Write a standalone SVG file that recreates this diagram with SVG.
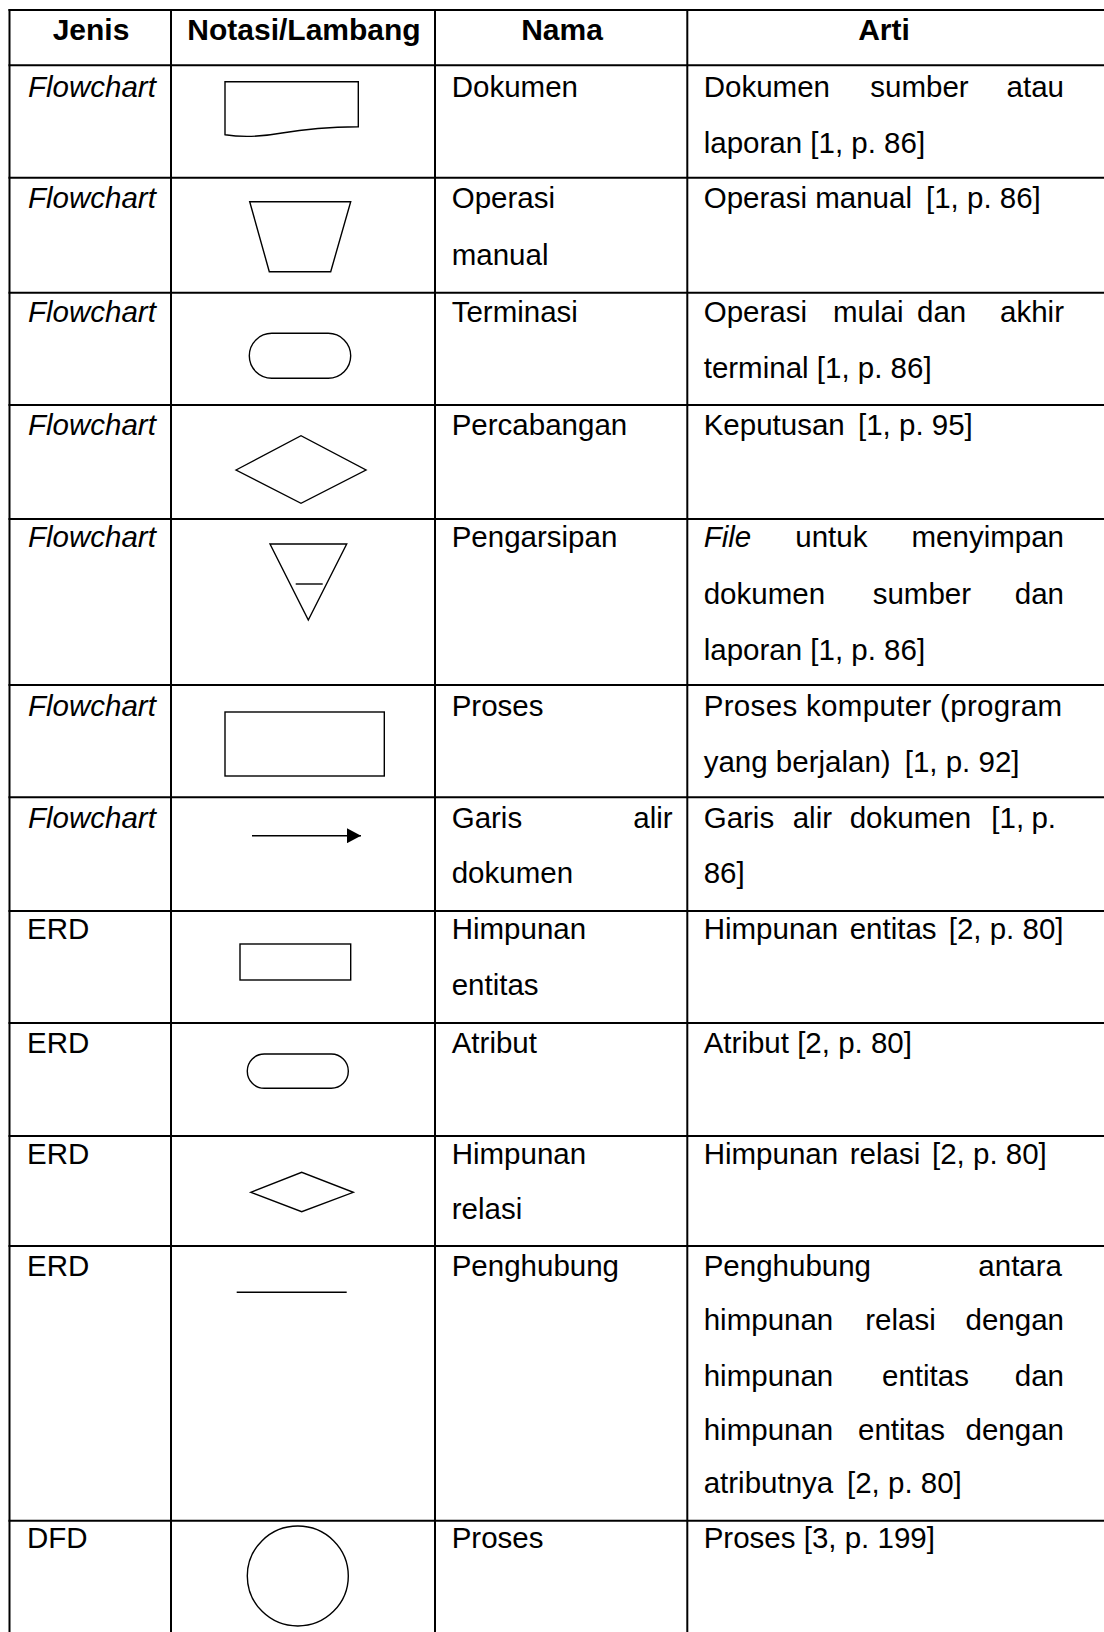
<svg xmlns="http://www.w3.org/2000/svg" width="1104" height="1632" viewBox="0 0 1104 1632">
<style>
.t{font-family:"Liberation Sans",Arial,Helvetica,sans-serif;font-size:29.5px;fill:#000}
.h{font-weight:bold;font-size:30px;text-anchor:middle}
.i{font-style:italic}
.e{text-anchor:end}
.grid line{stroke:#000;stroke-width:2}
.sym{fill:none;stroke:#000;stroke-width:1.4}
</style>
<defs>
<marker id="ah" markerWidth="14" markerHeight="15" refX="14" refY="7.5" orient="auto" markerUnits="userSpaceOnUse">
<path d="M0,0 L14,7.5 L0,15 Z" fill="#000"/>
</marker>
</defs>
<rect width="1104" height="1632" fill="#fff"/>
<g id="grid" class="grid">
<line x1="9.5" y1="9" x2="9.5" y2="1632"/>
<line x1="171" y1="9" x2="171" y2="1632"/>
<line x1="435" y1="9" x2="435" y2="1632"/>
<line x1="687.3" y1="9" x2="687.3" y2="1632"/>
<line x1="8.5" y1="10" x2="1104" y2="10"/>
<line x1="8.5" y1="65.3" x2="1104" y2="65.3"/>
<line x1="8.5" y1="177.7" x2="1104" y2="177.7"/>
<line x1="8.5" y1="292.7" x2="1104" y2="292.7"/>
<line x1="8.5" y1="405" x2="1104" y2="405"/>
<line x1="8.5" y1="519" x2="1104" y2="519"/>
<line x1="8.5" y1="685" x2="1104" y2="685"/>
<line x1="8.5" y1="797.3" x2="1104" y2="797.3"/>
<line x1="8.5" y1="911" x2="1104" y2="911"/>
<line x1="8.5" y1="1023" x2="1104" y2="1023"/>
<line x1="8.5" y1="1136" x2="1104" y2="1136"/>
<line x1="8.5" y1="1246" x2="1104" y2="1246"/>
<line x1="8.5" y1="1520.7" x2="1104" y2="1520.7"/>
</g>
<g id="header">
<text class="t h" x="91" y="40">Jenis</text>
<text class="t h" x="304" y="40">Notasi/Lambang</text>
<text class="t h" x="562" y="40">Nama</text>
<text class="t h" x="884" y="40">Arti</text>
</g>
<g id="row-dokumen">
<text class="t i" x="28" y="97">Flowchart</text>
<path class="sym" d="M225,81.7 H358.3 V126.7 C330,127 305,129 282,133 C260,137 242,137.5 225,134.7 Z"/>
<text class="t" x="451.7" y="97">Dokumen</text>
<text class="t" x="703.7" y="97">Dokumen</text>
<text class="t" x="870.3" y="97">sumber</text>
<text class="t e" x="1064" y="97">atau</text>
<text class="t" x="703.7" y="153">laporan [1, p. 86]</text>
</g>
<g id="row-operasi-manual">
<text class="t i" x="28" y="208">Flowchart</text>
<path class="sym" d="M249.7,201.7 L350.7,201.7 L330.7,271.7 L269.3,271.7 Z"/>
<text class="t" x="451.7" y="208">Operasi</text>
<text class="t" x="451.7" y="265">manual</text>
<text class="t" x="703.7" y="208">Operasi manual</text>
<text class="t" x="926" y="208">[1, p. 86]</text>
</g>
<g id="row-terminasi">
<text class="t i" x="28" y="322">Flowchart</text>
<rect class="sym" x="249.3" y="333.3" width="101.4" height="45" rx="22.5" ry="22.5"/>
<text class="t" x="451.7" y="322">Terminasi</text>
<text class="t" x="703.7" y="322">Operasi</text>
<text class="t" x="833" y="322">mulai</text>
<text class="t" x="917" y="322">dan</text>
<text class="t e" x="1064" y="322">akhir</text>
<text class="t" x="703.7" y="378">terminal [1, p. 86]</text>
</g>
<g id="row-percabangan">
<text class="t i" x="28" y="435">Flowchart</text>
<path class="sym" d="M236,470 L301,435.7 L366,470 L301,503.3 Z"/>
<text class="t" x="451.7" y="435">Percabangan</text>
<text class="t" x="703.7" y="435">Keputusan</text>
<text class="t" x="858" y="435">[1, p. 95]</text>
</g>
<g id="row-pengarsipan">
<text class="t i" x="28" y="547">Flowchart</text>
<path class="sym" d="M270,544 L346.7,544 L308.3,620 Z"/>
<line class="sym" x1="295.7" y1="584" x2="322.7" y2="584"/>
<text class="t" x="451.7" y="547">Pengarsipan</text>
<text class="t i" x="703.7" y="547">File</text>
<text class="t" x="795.3" y="547">untuk</text>
<text class="t e" x="1064" y="547">menyimpan</text>
<text class="t" x="703.7" y="604">dokumen</text>
<text class="t" x="872.7" y="604">sumber</text>
<text class="t e" x="1064" y="604">dan</text>
<text class="t" x="703.7" y="660">laporan [1, p. 86]</text>
</g>
<g id="row-proses-flowchart">
<text class="t i" x="28" y="716">Flowchart</text>
<rect class="sym" x="225" y="712" width="159.3" height="64"/>
<text class="t" x="451.7" y="716">Proses</text>
<text class="t" x="703.7" y="716" textLength="358.3" lengthAdjust="spacing">Proses komputer (program</text>
<text class="t" x="703.7" y="772">yang berjalan)</text>
<text class="t" x="904.7" y="772">[1, p. 92]</text>
</g>
<g id="row-garis-alir">
<text class="t i" x="28" y="828">Flowchart</text>
<line class="sym" x1="252" y1="835.7" x2="361" y2="835.7" stroke-width="1.6" marker-end="url(#ah)"/>
<text class="t" x="451.7" y="828">Garis</text>
<text class="t e" x="672.7" y="828">alir</text>
<text class="t" x="451.7" y="883">dokumen</text>
<text class="t" x="703.7" y="828">Garis</text>
<text class="t" x="792.7" y="828">alir</text>
<text class="t" x="849.7" y="828">dokumen</text>
<text class="t" x="991.3" y="828">[1,</text>
<text class="t e" x="1056" y="828">p.</text>
<text class="t" x="703.7" y="883">86]</text>
</g>
<g id="row-himpunan-entitas">
<text class="t" x="27" y="939">ERD</text>
<rect class="sym" x="240" y="944" width="110.7" height="36"/>
<text class="t" x="451.7" y="939">Himpunan</text>
<text class="t" x="451.7" y="995">entitas</text>
<text class="t" x="703.7" y="939">Himpunan</text>
<text class="t" x="849.7" y="939">entitas</text>
<text class="t" x="948.7" y="939">[2, p. 80]</text>
</g>
<g id="row-atribut">
<text class="t" x="27" y="1053">ERD</text>
<rect class="sym" x="247.3" y="1054" width="101" height="34.3" rx="17" ry="17"/>
<text class="t" x="451.7" y="1053">Atribut</text>
<text class="t" x="703.7" y="1053">Atribut [2, p. 80]</text>
</g>
<g id="row-himpunan-relasi">
<text class="t" x="27" y="1164">ERD</text>
<path class="sym" d="M250.7,1192.3 L301.7,1172.3 L353.3,1192.3 L301.7,1211.7 Z"/>
<text class="t" x="451.7" y="1164">Himpunan</text>
<text class="t" x="451.7" y="1219">relasi</text>
<text class="t" x="703.7" y="1164">Himpunan</text>
<text class="t" x="849.7" y="1164">relasi</text>
<text class="t" x="932" y="1164">[2, p. 80]</text>
</g>
<g id="row-penghubung">
<text class="t" x="27" y="1276">ERD</text>
<line class="sym" x1="236.7" y1="1292.3" x2="346.7" y2="1292.3" stroke-width="1.6"/>
<text class="t" x="451.7" y="1276">Penghubung</text>
<text class="t" x="703.7" y="1276">Penghubung</text>
<text class="t e" x="1062" y="1276">antara</text>
<text class="t" x="703.7" y="1330">himpunan</text>
<text class="t" x="865.3" y="1330">relasi</text>
<text class="t e" x="1064" y="1330">dengan</text>
<text class="t" x="703.7" y="1386">himpunan</text>
<text class="t" x="882" y="1386">entitas</text>
<text class="t e" x="1064" y="1386">dan</text>
<text class="t" x="703.7" y="1440">himpunan</text>
<text class="t" x="858" y="1440">entitas</text>
<text class="t e" x="1064" y="1440">dengan</text>
<text class="t" x="703.7" y="1493">atributnya</text>
<text class="t" x="847" y="1493">[2, p. 80]</text>
</g>
<g id="row-proses-dfd">
<text class="t" x="27" y="1548">DFD</text>
<ellipse class="sym" cx="297.8" cy="1576" rx="50.5" ry="50"/>
<text class="t" x="451.7" y="1548">Proses</text>
<text class="t" x="703.7" y="1548">Proses [3, p. 199]</text>
</g>
</svg>
